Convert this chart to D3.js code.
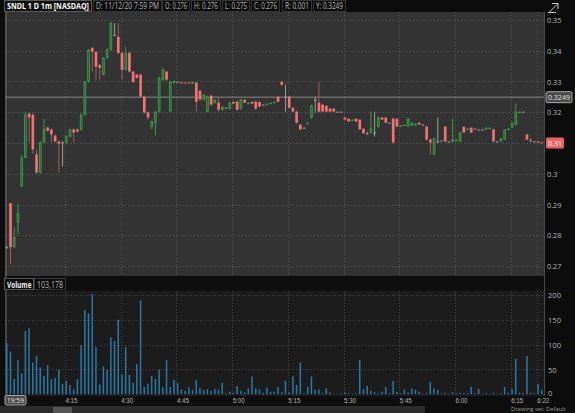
<!DOCTYPE html>
<html><head><meta charset="utf-8">
<script src="https://cdn.jsdelivr.net/npm/d3@7"></script>
<style>
html,body{margin:0;padding:0;background:#0e0e0e;overflow:hidden;}
svg{display:block;font-family:"Open Sans","DejaVu Sans",sans-serif;}
</style></head><body>
<svg id="chart" width="575" height="413"></svg>
<script>
// ---- DATA ----
const times = ["19:59",
"4:00","4:01","4:02","4:03","4:04","4:05","4:06","4:07","4:08","4:09","4:10","4:11","4:12","4:13","4:14",
"4:15","4:16","4:17","4:18","4:19","4:20","4:21","4:22","4:23","4:24","4:25","4:26","4:27","4:28","4:29",
"4:30","4:31","4:32","4:33","4:34","4:35","4:36","4:37","4:38","4:39","4:40","4:41","4:42","4:43","4:44",
"4:45","4:46","4:47","4:48","4:49","4:50","4:51","4:52","4:53","4:54","4:55","4:56","4:57","4:58","4:59",
"5:00","5:01","5:02","5:03","5:04","5:05","5:06","5:07","5:08","5:09","5:10","5:11","5:12","5:13","5:14",
"5:15","5:16","5:17","5:18","5:19","5:20","5:21","5:22","5:23","5:24","5:25","5:26","5:27","5:28","5:29",
"5:30","5:31","5:32","5:33","5:34","5:35","5:36","5:37","5:38","5:39","5:40","5:41","5:42","5:43","5:44",
"5:45","5:46","5:47","5:48","5:49","5:50","5:51","5:52","5:53","5:54","5:55","5:56","5:57","5:58","5:59",
"6:00","6:01","6:02","6:03","6:04","6:05","6:06","6:07","6:08","6:09","6:10","6:11","6:12","6:13","6:14",
"6:15","6:16","6:17","6:18","6:19","6:20","6:21","6:22","6:23"];

const open = [.2761,
.2904,.2761,.2842,.2959,.3053,.3196,.3192,.3063,.3004,.3102,.3150,.3144,.3124,.3105,.3102,
.3102,.3121,.3144,.3144,.3144,.3192,.3299,.3409,.3396,.3354,.3322,.3377,.3403,.3451,.3445,
.3393,.3338,.3393,.3332,.3322,.3322,.3251,.3199,.3153,.3166,.3202,.3306,.3332,.3202,.3296,
.3299,.3297,.3297,.3297,.3293,.3296,.3270,.3241,.3202,.3254,.3231,.3231,.3208,.3215,.3212,
.3234,.3234,.3212,.3241,.3228,.3234,.3234,.3234,.3225,.3226,.3229,.3231,.3251,.3299,.3251,
.3251,.3215,.3202,.3160,.3150,.3163,.3183,.3241,.3231,.3225,.3221,.3212,.3212,.3202,.3202,
.3183,.3179,.3173,.3179,.3176,.3147,.3131,.3134,.3134,.3153,.3183,.3183,.3166,.3179,.3179,
.3153,.3157,.3153,.3157,.3157,.3166,.3160,.3153,.3111,.3063,.3105,.3108,.3153,.3105,.3105,
.3108,.3105,.3153,.3144,.3150,.3147,.3144,.3144,.3144,.3149,.3144,.3105,.3105,.3111,.3144,
.3150,.3160,.3200,.3202,.3128,.3108,.3105,.3105,.3102];

const high = [.2764,
.2905,.2826,.2901,.3060,.3202,.3199,.3196,.3079,.3105,.3179,.3153,.3147,.3128,.3108,.3105,
.3124,.3147,.3147,.3147,.3196,.3302,.3406,.3413,.3400,.3357,.3380,.3409,.3494,.3490,.3490,
.3396,.3413,.3396,.3335,.3325,.3325,.3254,.3202,.3173,.3205,.3316,.3345,.3335,.3302,.3302,
.3299,.3297,.3297,.3297,.3299,.3299,.3273,.3260,.3254,.3257,.3241,.3251,.3221,.3215,.3234,
.3234,.3238,.3244,.3241,.3231,.3234,.3238,.3234,.3225,.3228,.3231,.3234,.3251,.3302,.3289,
.3254,.3215,.3205,.3160,.3150,.3166,.3225,.3251,.3299,.3225,.3221,.3212,.3212,.3202,.3202,
.3183,.3179,.3176,.3179,.3176,.3147,.3137,.3202,.3202,.3186,.3183,.3183,.3166,.3183,.3179,
.3157,.3160,.3179,.3166,.3163,.3166,.3160,.3157,.3115,.3118,.3183,.3108,.3157,.3105,.3179,
.3111,.3137,.3153,.3147,.3150,.3147,.3144,.3144,.3150,.3150,.3147,.3105,.3115,.3144,.3147,
.3166,.3228,.3202,.3202,.3128,.3115,.3105,.3105,.3102];

const low = [.2758,
.2707,.2758,.2804,.2956,.3050,.3102,.3066,.3001,.3001,.3098,.3137,.3102,.3102,.3004,.3024,
.3098,.3118,.3102,.3134,.3140,.3189,.3296,.3332,.3306,.3306,.3319,.3374,.3400,.3448,.3390,
.3306,.3335,.3329,.3296,.3309,.3248,.3196,.3176,.3144,.3124,.3199,.3302,.3302,.3202,.3293,
.3299,.3295,.3295,.3295,.3293,.3202,.3238,.3238,.3202,.3221,.3228,.3202,.3205,.3215,.3208,
.3228,.3205,.3208,.3231,.3228,.3228,.3208,.3218,.3225,.3226,.3229,.3231,.3234,.3286,.3202,
.3212,.3202,.3163,.3144,.3150,.3163,.3179,.3199,.3199,.3202,.3202,.3202,.3202,.3202,.3202,
.3176,.3170,.3173,.3170,.3144,.3131,.3128,.3131,.3121,.3150,.3176,.3166,.3166,.3098,.3153,
.3153,.3157,.3153,.3157,.3157,.3160,.3160,.3108,.3063,.3060,.3102,.3105,.3102,.3105,.3102,
.3108,.3102,.3134,.3144,.3134,.3144,.3144,.3144,.3144,.3149,.3102,.3105,.3105,.3111,.3144,
.3150,.3157,.3200,.3202,.3111,.3108,.3102,.3102,.3100];

const close = [.2761,
.2761,.2794,.2872,.3053,.3192,.3183,.3079,.3004,.3102,.3147,.3140,.3128,.3105,.3098,.3102,
.3121,.3144,.3134,.3137,.3192,.3299,.3403,.3396,.3348,.3345,.3377,.3403,.3490,.3451,.3393,
.3338,.3393,.3332,.3299,.3312,.3251,.3199,.3183,.3170,.3202,.3312,.3338,.3306,.3299,.3302,
.3299,.3295,.3295,.3295,.3299,.3234,.3241,.3257,.3251,.3225,.3241,.3208,.3218,.3215,.3231,
.3228,.3208,.3241,.3231,.3231,.3228,.3212,.3218,.3225,.3228,.3231,.3234,.3234,.3289,.3251,
.3215,.3202,.3166,.3144,.3150,.3166,.3221,.3241,.3202,.3202,.3202,.3202,.3202,.3202,.3202,
.3176,.3170,.3176,.3170,.3144,.3131,.3131,.3147,.3134,.3183,.3176,.3166,.3166,.3102,.3153,
.3157,.3160,.3179,.3166,.3163,.3160,.3160,.3111,.3102,.3115,.3105,.3105,.3105,.3105,.3111,
.3111,.3134,.3134,.3147,.3134,.3144,.3144,.3144,.3150,.3150,.3105,.3105,.3115,.3144,.3147,
.3166,.3202,.3202,.3202,.3111,.3108,.3102,.3102,.3100];

const volume = [103,
86,31,69,42,128,133,64,77,54,37,59,30,33,49,21,
27,19,10,30,99,170,163,202,95,20,56,49,115,108,150,
40,95,39,23,61,189,15,21,37,31,50,14,69,15,29,
23,10,7,14,9,29,13,9,10,7,11,9,23,2,5,
3,17,7,4,12,36,12,10,3,14,5,5,15,4,27,
4,36,19,64,2,15,36,9,10,2,12,4,1,1,2,
4,2,1,2,69,10,17,7,4,2,5,15,2,27,5,
2,10,4,12,9,5,1,2,25,12,9,2,3,1,4,
2,3,2,2,15,2,11,1,2,1,3,1,2,15,3,
11,71,3,2,77,3,2,21,9];

const priceTicks = [0.27,0.28,0.29,0.30,0.31,0.32,0.33,0.34,0.35];
const priceTickLabels = ["0.27","0.28","0.29","0.3","0.31","0.32","0.33","0.34","0.35"];
const volTicks = [0,50,100,150,200];
const timeTicks = ["4:15","4:30","4:45","5:00","5:15","5:30","5:45","6:00","6:15","6:22"];
const headerItems = ["SNDL 1 D 1m [NASDAQ]","D: 11/12/20 7:59 PM","O: 0.276","H: 0.276","L: 0.275","C: 0.276","R: 0.001","Y: 0.3249"];
const cursorPrice = 0.3249;
const lastPrice = 0.31;
const cursorTime = "19:59";
const totalVolume = "103,178";
const drawingSetText = "Drawing set: Default";

// ---- LAYOUT ----
const svg = d3.select("#chart");
const plotL = 5, plotR = 544;
const priceTop = 12, priceBot = 276;
const volTop = 291, volBot = 396;

// horizontally condense a start-anchored text so it fits a width
function fit(sel, maxW, sx0) {
  sel.each(function(){
    const t = d3.select(this);
    const w = this.getComputedTextLength();
    let sx = sx0 || 1;
    if (maxW && w*sx > maxW) sx = maxW / w;
    const x0 = +t.attr("x") || 0;
    t.attr("transform", `translate(${x0*(1-sx)},0) scale(${sx},1)`);
  });
}

const bars = times.map((t,i)=>({t,o:open[i],h:high[i],l:low[i],c:close[i],v:volume[i]}));

const x = d3.scaleBand().domain(times).range([5.5, 5.5 + times.length*3.708]).paddingInner(0.28).paddingOuter(0);
const bw = x.bandwidth();
const y = d3.scaleLinear().domain([0.27,0.35]).range([266,20]);
const yv = d3.scaleLinear().domain([0,200]).range([394.3,295]);

// backgrounds
svg.append("rect").attr("x",0).attr("y",0).attr("width",575).attr("height",413).attr("fill","#0e0e0e");
svg.append("rect").attr("x",plotL).attr("y",priceTop).attr("width",plotR-plotL).attr("height",priceBot-priceTop).attr("fill","#333333");
svg.append("rect").attr("x",plotL).attr("y",volTop).attr("width",plotR-plotL).attr("height",volBot-volTop).attr("fill","#1c1c1c");

// grid
const grid = svg.append("g").attr("stroke","#575757").attr("stroke-dasharray","1,2").attr("stroke-width",1);
priceTicks.forEach(p=>{
  const yy = Math.round(y(p))+0.5;
  grid.append("line").attr("x1",plotL).attr("x2",plotR).attr("y1",yy).attr("y2",yy);
});
volTicks.slice(1).forEach(v=>{
  const yy = Math.round(yv(v))+0.5;
  grid.append("line").attr("x1",plotL).attr("x2",plotR).attr("y1",yy).attr("y2",yy).attr("stroke","#474747");
});
timeTicks.forEach(t=>{
  const xx = Math.round(x(t))+0.5;
  grid.append("line").attr("x1",xx).attr("x2",xx).attr("y1",priceTop).attr("y2",priceBot);
  grid.append("line").attr("x1",xx).attr("x2",xx).attr("y1",volTop).attr("y2",volBot).attr("stroke","#474747");
});

// crosshair
svg.append("line").attr("x1",plotL).attr("x2",plotR).attr("y1",y(cursorPrice)).attr("y2",y(cursorPrice))
  .attr("stroke","#8a8a8a").attr("stroke-width",1);
svg.append("line").attr("x1",x(cursorTime)+0.5).attr("x2",x(cursorTime)+0.5).attr("y1",priceTop).attr("y2",volBot)
  .attr("stroke","#6e6e6e").attr("stroke-width",1);

// candles
const colorOf = d => d.c > d.o ? "up" : (d.c < d.o ? "down" : "flat");
const bodyCol = {up:"#3c9a48", down:"#f07272", flat:"#a6a6a6"};
const wickCol = {up:"#3c9a48", down:"#a65a5a", flat:"#9a9a9a"};
const cg = svg.append("g");
bars.forEach(d=>{
  const k = colorOf(d);
  const cx = x(d.t) + bw/2;
  cg.append("line").attr("x1",cx).attr("x2",cx).attr("y1",y(d.h)).attr("y2",y(d.l))
    .attr("stroke",wickCol[k]).attr("stroke-width",1);
  const top = y(Math.max(d.o,d.c)), bot = y(Math.min(d.o,d.c));
  const h = Math.max(1, bot-top);
  if (k==="up") {
    cg.append("rect").attr("x",x(d.t)+0.5).attr("y",top+0.5).attr("width",Math.max(1,bw-1)).attr("height",Math.max(0.5,h-1))
      .attr("fill","#33443a").attr("stroke",bodyCol.up).attr("stroke-width",1);
  } else {
    cg.append("rect").attr("x",x(d.t)).attr("y",top).attr("width",bw).attr("height",h).attr("fill",bodyCol[k]);
  }
});

// volume bars
svg.append("g").selectAll("rect").data(bars).join("rect")
  .attr("x",d=>x(d.t)+bw/2-0.8).attr("width",1.5)
  .attr("y",d=>yv(d.v)).attr("height",d=>yv(0)-yv(d.v)).attr("fill","#2b78a4");

// right axis area
svg.append("rect").attr("x",plotR).attr("y",0).attr("width",575-plotR).attr("height",413).attr("fill","#0c0c0c");
svg.append("line").attr("x1",plotR+0.5).attr("x2",plotR+0.5).attr("y1",priceTop).attr("y2",volBot).attr("stroke","#4a4a4a");

const yAxis = d3.axisRight(y).tickValues(priceTicks).tickFormat((d,i)=>priceTickLabels[i]).tickSize(0).tickPadding(3);
const ya = svg.append("g").attr("transform",`translate(${plotR},0)`).call(yAxis);
ya.select(".domain").remove();
ya.selectAll("text").attr("fill","#b4b4b4").attr("font-size",8).attr("font-family","Open Sans");
fit(ya.selectAll("text"), 14.5, 0.95);

const vAxis = d3.axisRight(yv).tickValues(volTicks).tickSize(0).tickPadding(4);
const va = svg.append("g").attr("transform",`translate(${plotR},0)`).call(vAxis);
va.select(".domain").remove();
va.selectAll("text").attr("fill","#b4b4b4").attr("font-size",8).attr("font-family","Open Sans");
va.selectAll(".tick").filter(d=>d===0).select("text").attr("dy","0.1em");
fit(va.selectAll("text"), 14, 0.95);

// cursor price label
const cy = y(cursorPrice);
svg.append("rect").attr("x",546).attr("y",cy-5.5).attr("width",26).attr("height",11).attr("rx",1.5)
  .attr("fill","#4a4a4a").attr("stroke","#c8c8c8").attr("stroke-width",0.8);
const cpt = svg.append("text").attr("x",548).attr("y",cy+3).attr("fill","#e0e0e0").attr("font-size",8).text(cursorPrice.toFixed(4));
fit(cpt, 22);
// last price label
const ly = y(lastPrice);
svg.append("rect").attr("x",546).attr("y",ly-5.5).attr("width",18).attr("height",11).attr("rx",1.5).attr("fill","#ea6464");
const lpt = svg.append("text").attr("x",548).attr("y",ly+3).attr("fill","#ffffff").attr("font-size",8).text("0.31");
fit(lpt, 14);

// top-right icon
const ic = svg.append("g").attr("stroke","#d0d0d0").attr("stroke-width",1).attr("fill","none");
ic.append("path").attr("d","M549,12.5 L557,4.5 M552,3.5 L558,3.5 L558,9 M548,12.5 L556,12.5");

// header
const hdr = svg.append("g");
hdr.append("rect").attr("x",0).attr("y",0).attr("width",plotR).attr("height",priceTop).attr("fill","#0c0c0c");
const hdrBoxes = [[4,87],[93,68],[162,27],[191,29],[222,27],[251,28],[282,29],[313,32]];
headerItems.forEach((t,i)=>{
  const [bx,bwid] = hdrBoxes[i];
  hdr.append("rect").attr("x",bx+0.5).attr("y",0.5).attr("width",bwid).attr("height",11)
    .attr("fill","#0c0c0c").attr("stroke", i===0 ? "#5a5a5a" : "#363636");
  const tx = hdr.append("text").attr("x",bx+3).attr("y",9.4).attr("font-size",9)
    .attr("font-weight", i===0 ? "bold" : "normal")
    .attr("fill", i===0 ? "#ffffff" : "#b8b8b8").text(t);
  fit(tx, bwid-5);
});

// volume header
const vh = svg.append("g");
vh.append("rect").attr("x",4.5).attr("y",278.5).attr("width",29).attr("height",11).attr("fill","#0c0c0c").attr("stroke","#5a5a5a");
fit(vh.append("text").attr("x",7).attr("y",287.8).attr("font-size",9).attr("font-weight","bold").attr("fill","#f0f0f0").text("Volume"), 24.5);
vh.append("rect").attr("x",34.5).attr("y",278.5).attr("width",31).attr("height",11).attr("fill","#0c0c0c").attr("stroke","#363636");
fit(vh.append("text").attr("x",37).attr("y",287.8).attr("font-size",9).attr("fill","#b8b8b8").text(totalVolume), 26);

// time axis
svg.append("rect").attr("x",plotL).attr("y",volBot).attr("width",plotR-plotL).attr("height",10).attr("fill","#0e0e0e");
const xAxis = d3.axisBottom(x).tickValues(timeTicks).tickSize(0).tickPadding(0);
const xa = svg.append("g").attr("transform",`translate(0,${volBot})`).call(xAxis);
xa.select(".domain").remove();
xa.selectAll("text").attr("fill","#b4b4b4").attr("font-size",8).attr("text-anchor","start")
  .attr("dy","0").attr("y",6.8).attr("x",-bw/2 + 0.5);
fit(xa.selectAll("text"), 12, 0.97);

// cursor time label
svg.append("rect").attr("x",5).attr("y",395.5).attr("width",21).attr("height",9.5).attr("rx",1.5)
  .attr("fill","#4a4a4a").attr("stroke","#c8c8c8").attr("stroke-width",0.8);
fit(svg.append("text").attr("x",7).attr("y",402.8).attr("font-size",8).attr("fill","#e6e6e6").text(cursorTime), 17);

// bottom strip
svg.append("rect").attr("x",0).attr("y",406).attr("width",425).attr("height",7).attr("fill","#2c2c2c");
svg.append("rect").attr("x",53).attr("y",407).attr("width",19).attr("height",6).attr("fill","#555");
fit(svg.append("text").attr("x",511).attr("y",411.4).attr("font-size",5.8).attr("fill","#9a9a9a").text(drawingSetText), 62);
</script>
</body></html>
